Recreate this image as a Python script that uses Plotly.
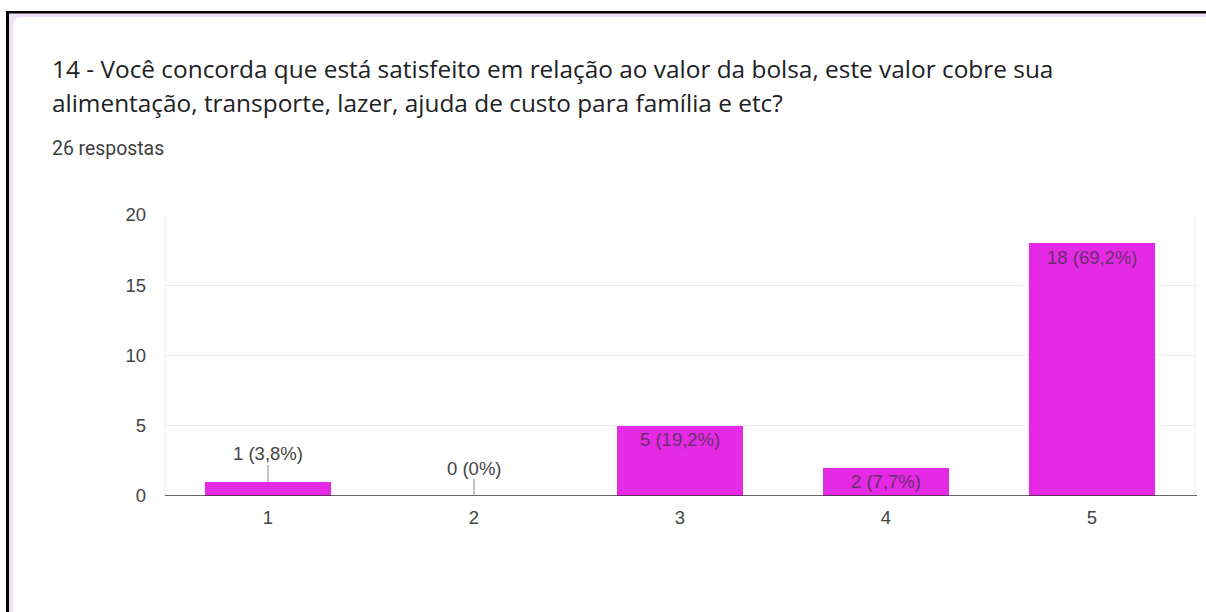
import plotly.graph_objects as go

# Survey answers: scale 1..5 and number of responses for each option
categories = ["1", "2", "3", "4", "5"]
counts = [1, 0, 5, 2, 18]
total_responses = 26
y_ticks = [0, 5, 10, 15, 20]

title_lines = [
    "14 - Você concorda que está satisfeito em relação ao valor da bolsa, este valor cobre sua",
    "alimentação, transporte, lazer, ajuda de custo para família e etc?",
]
subtitle = f"{total_responses} respostas"

W, H = 1206, 612
M_L, M_R, M_T, M_B = 165, 11, 215, 116
PW, PH = W - M_L - M_R, H - M_T - M_B

BAR_COLOR = "#e42ae4"
LABEL_FONT = "Liberation Sans, Arial, sans-serif"
LABEL_SIZE = 18.5


def px(x):
    return (x - M_L) / PW


def py(y):
    return (H - M_B - y) / PH


def pct_label(n):
    p = round(100 * n / total_responses, 1)
    s = f"{p:.1f}".replace(".", ",")
    if s.endswith(",0"):
        s = s[:-2]
    return f"{n} ({s}%)"


fig = go.Figure()
fig.add_trace(
    go.Bar(
        x=categories,
        y=counts,
        marker=dict(color=BAR_COLOR, line=dict(width=0)),
        width=0.613,
        hoverinfo="skip",
    )
)

annotations = []
for i, n in enumerate(counts):
    label = pct_label(n)
    if n >= 2:
        # label sits inside the top of the bar
        annotations.append(
            dict(
                x=i, y=n, xref="x", yref="y", text=label, showarrow=False,
                yshift=-14, font=dict(family=LABEL_FONT, size=LABEL_SIZE, color="#6a2f6e"),
            )
        )
    else:
        # short bars get the label above with a small leader line
        annotations.append(
            dict(
                x=i, y=n, xref="x", yref="y", text=label, showarrow=True,
                arrowhead=0, arrowwidth=1, arrowcolor="#8a8a8a", ax=0, ay=-28,
                standoff=0, startstandoff=0, borderpad=0,
                font=dict(family=LABEL_FONT, size=LABEL_SIZE, color="#444444"),
            )
        )

# question header and response count
annotations.append(
    dict(x=px(50), y=py(69), xref="paper", yref="paper", xanchor="left", yanchor="middle",
         text=title_lines[0], showarrow=False,
         font=dict(family="Open Sans, sans-serif", size=24.4, color="#202124"))
)
annotations.append(
    dict(x=px(50), y=py(102), xref="paper", yref="paper", xanchor="left", yanchor="middle",
         text=title_lines[1], showarrow=False,
         font=dict(family="Open Sans, sans-serif", size=24.4, color="#202124"))
)
annotations.append(
    dict(x=px(50), y=py(148), xref="paper", yref="paper", xanchor="left", yanchor="middle",
         text=subtitle, showarrow=False,
         font=dict(family="Roboto, sans-serif", size=19.4, color="#3c4043"))
)

shapes = [
    # lavender backdrop behind the card
    dict(type="rect", xref="paper", yref="paper", x0=px(6), x1=px(W + 10), y0=py(11), y1=py(H + 10),
         fillcolor="#f0e2f6", line=dict(width=0), layer="below"),
    # white card with a rounded top-left corner
    dict(type="path", xref="paper", yref="paper", layer="below",
         path=(f"M {px(13)},{py(26)} Q {px(13)},{py(17)} {px(22)},{py(17)} "
               f"L {px(W + 10)},{py(17)} L {px(W + 10)},{py(H + 10)} "
               f"L {px(13)},{py(H + 10)} Z"),
         fillcolor="white", line=dict(width=0)),
    # dark frame on the left and top
    dict(type="rect", xref="paper", yref="paper", x0=px(6), x1=px(9), y0=py(11), y1=py(H + 10),
         fillcolor="black", line=dict(width=0), layer="below"),
    dict(type="rect", xref="paper", yref="paper", x0=px(6), x1=px(W + 10), y0=py(11), y1=py(13.5),
         fillcolor="black", line=dict(width=0), layer="below"),
    # plot frame edges
    dict(type="line", xref="paper", yref="paper", x0=0, x1=0, y0=0, y1=1,
         line=dict(color="#ececec", width=1), layer="below"),
    dict(type="line", xref="paper", yref="paper", x0=1, x1=1, y0=0, y1=1,
         line=dict(color="#ececec", width=1), layer="below"),
    # baseline
    dict(type="line", xref="paper", yref="y", x0=0, x1=px(1197), y0=0, y1=0,
         line=dict(color="#333333", width=1.3)),
]

fig.update_layout(
    width=W,
    height=H,
    margin=dict(l=M_L, r=M_R, t=M_T, b=M_B),
    paper_bgcolor="white",
    plot_bgcolor="white",
    showlegend=False,
    bargap=0,
    annotations=annotations,
    shapes=shapes,
    xaxis=dict(
        type="category",
        range=[-0.5, 4.5],
        showgrid=False,
        showline=False,
        zeroline=False,
        ticks="",
        ticklabelstandoff=8,
        tickfont=dict(family=LABEL_FONT, size=LABEL_SIZE, color="#444444"),
        fixedrange=True,
    ),
    yaxis=dict(
        range=[0, 20],
        tickvals=y_ticks,
        showgrid=True,
        gridcolor="#ebebeb",
        gridwidth=1,
        zeroline=False,
        showline=False,
        ticks="",
        ticklabelstandoff=18,
        tickfont=dict(family=LABEL_FONT, size=LABEL_SIZE, color="#444444"),
        fixedrange=True,
    ),
)

fig.write_html("out.html", config={"displayModeBar": False})
